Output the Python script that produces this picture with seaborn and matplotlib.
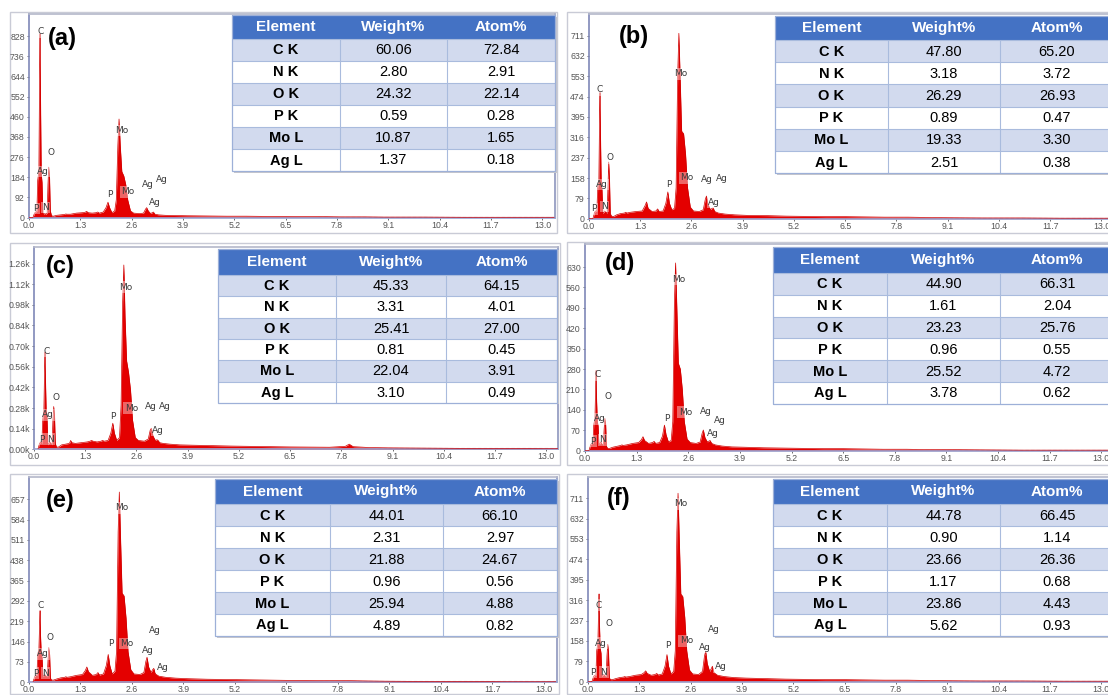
import numpy as np
import pandas as pd
import matplotlib
matplotlib.use("Agg")
import matplotlib.pyplot as plt
import seaborn as sns
from matplotlib.patches import Rectangle
from matplotlib.lines import Line2D

# ---------------- data ----------------
energy_keV = [0.00, 0.10, 0.14, 0.17, 0.20, 0.22, 0.25, 0.27, 0.28, 0.29, 0.31, 0.33, 0.35, 0.38, 0.40,
              0.43, 0.46, 0.48, 0.50, 0.52, 0.54, 0.57, 0.62, 0.70, 0.80, 0.90, 0.93, 0.96, 1.05, 1.20,
              1.35, 1.42, 1.46, 1.50, 1.60, 1.70, 1.74, 1.78, 1.88, 1.95, 2.00, 2.04, 2.10, 2.17, 2.21,
              2.25, 2.28, 2.31, 2.35, 2.40, 2.45, 2.50, 2.57, 2.65, 2.80, 2.90, 2.95, 2.98, 3.02, 3.08,
              3.12, 3.15, 3.19, 3.28, 3.45, 3.70, 4.00, 4.50, 5.00, 5.50, 6.00, 6.50, 7.00, 7.50, 7.90,
              8.00, 8.10, 8.50, 9.00, 10.0, 11.0, 12.0, 13.0, 13.3]

counts_a = [0, 0, 20, 25, 30, 170, 210, 700, 840, 560, 200, 160, 20, 15, 18,
            15, 20, 150, 230, 180, 30, 8, 6, 10, 12, 14, 16, 15, 15, 20,
            22, 24, 28, 22, 20, 22, 25, 20, 25, 45, 70, 45, 22, 30, 80,
            330, 450, 330, 210, 190, 150, 80, 30, 20, 18, 20, 38, 45, 30, 18,
            22, 25, 15, 12, 10, 9, 8, 7, 6, 6, 5, 5, 4, 4, 3,
            3, 3, 3, 2, 2, 1, 1, 1, 1]
counts_b = [0, 0, 25, 30, 30, 120, 150, 420, 490, 330, 140, 110, 20, 25, 30,
            25, 20, 120, 220, 150, 20, 10, 8, 15, 20, 22, 25, 22, 25, 28,
            30, 50, 65, 40, 28, 30, 38, 28, 30, 60, 104, 60, 35, 40, 120,
            560, 720, 560, 340, 330, 250, 120, 45, 30, 28, 35, 75, 88, 55, 35,
            40, 42, 28, 22, 18, 15, 13, 12, 10, 9, 8, 8, 7, 6, 6,
            6, 6, 5, 4, 3, 3, 2, 2, 2]
counts_c = [0, 0, 40, 50, 40, 200, 260, 560, 660, 480, 250, 220, 30, 40, 50,
            40, 30, 200, 290, 230, 40, 15, 15, 30, 35, 40, 60, 45, 40, 45,
            50, 55, 60, 55, 50, 55, 60, 55, 60, 110, 177, 110, 60, 80, 300,
            1000, 1250, 900, 600, 520, 400, 200, 80, 60, 55, 70, 130, 143, 90, 60,
            65, 60, 45, 40, 35, 30, 28, 25, 22, 20, 18, 16, 15, 14, 20,
            35, 18, 12, 10, 8, 6, 5, 4, 4]
counts_d = [0, 0, 20, 25, 25, 90, 110, 230, 275, 180, 100, 85, 20, 25, 30,
            22, 20, 70, 111, 90, 15, 8, 8, 12, 15, 18, 20, 18, 20, 25,
            28, 38, 48, 35, 25, 28, 32, 25, 28, 50, 88, 55, 30, 35, 100,
            500, 644, 500, 300, 280, 210, 100, 40, 28, 25, 30, 60, 71, 45, 30,
            33, 35, 25, 20, 16, 13, 12, 10, 9, 8, 7, 7, 6, 5, 5,
            5, 5, 4, 4, 3, 2, 2, 2, 2]
counts_e = [0, 0, 20, 25, 25, 100, 120, 220, 258, 170, 100, 90, 20, 25, 28,
            22, 20, 80, 124, 100, 15, 8, 8, 12, 16, 18, 20, 18, 20, 25,
            28, 42, 55, 38, 25, 28, 35, 26, 30, 60, 100, 60, 30, 40, 110,
            540, 683, 520, 320, 310, 230, 110, 45, 30, 28, 35, 75, 90, 55, 35,
            45, 50, 30, 22, 18, 15, 13, 11, 10, 9, 8, 7, 7, 6, 6,
            6, 6, 5, 4, 3, 3, 2, 2, 2]
counts_f = [0, 0, 20, 25, 25, 120, 150, 290, 340, 220, 130, 110, 20, 25, 28,
            22, 20, 100, 145, 110, 15, 8, 8, 12, 16, 18, 20, 18, 20, 25,
            28, 35, 42, 32, 25, 28, 32, 26, 30, 60, 105, 60, 30, 40, 120,
            580, 730, 560, 340, 330, 250, 120, 45, 30, 28, 40, 100, 118, 70, 40,
            50, 60, 35, 25, 20, 16, 14, 12, 10, 9, 8, 8, 7, 6, 6,
            6, 6, 5, 4, 3, 3, 2, 2, 2]

elements = ["C K", "N K", "O K", "P K", "Mo L", "Ag L"]
header = ["Element", "Weight%", "Atom%"]
weight_a = [60.06, 2.80, 24.32, 0.59, 10.87, 1.37]
atom_a = [72.84, 2.91, 22.14, 0.28, 1.65, 0.18]
weight_b = [47.80, 3.18, 26.29, 0.89, 19.33, 2.51]
atom_b = [65.20, 3.72, 26.93, 0.47, 3.30, 0.38]
weight_c = [45.33, 3.31, 25.41, 0.81, 22.04, 3.10]
atom_c = [64.15, 4.01, 27.00, 0.45, 3.91, 0.49]
weight_d = [44.90, 1.61, 23.23, 0.96, 25.52, 3.78]
atom_d = [66.31, 2.04, 25.76, 0.55, 4.72, 0.62]
weight_e = [44.01, 2.31, 21.88, 0.96, 25.94, 4.89]
atom_e = [66.10, 2.97, 24.67, 0.56, 4.88, 0.82]
weight_f = [44.78, 0.90, 23.66, 1.17, 23.86, 5.62]
atom_f = [66.45, 1.14, 26.36, 0.68, 4.43, 0.93]

peak_labels_a = [("C", 0.30, 849), ("O", 0.55, 299), ("Ag", 0.36, 210), ("P", 0.17, 41), ("N", 0.42, 46),
                 ("Mo", 2.35, 397), ("P", 2.05, 103), ("Mo", 2.50, 118), ("Ag", 3.00, 152),
                 ("Ag", 3.37, 175), ("Ag", 3.19, 67)]
peak_labels_b = [("C", 0.27, 500), ("O", 0.53, 236), ("Ag", 0.33, 133), ("P", 0.13, 38), ("N", 0.40, 47),
                 ("Mo", 2.34, 563), ("P", 2.02, 131), ("Mo", 2.49, 159), ("Ag", 3.00, 152),
                 ("Ag", 3.36, 156), ("Ag", 3.17, 63)]
peak_labels_c = [("C", 0.32, 664), ("O", 0.55, 351), ("Ag", 0.36, 233), ("P", 0.19, 68), ("N", 0.42, 68),
                 ("Mo", 2.32, 1099), ("P", 2.01, 222), ("Mo", 2.47, 279), ("Ag", 2.96, 290),
                 ("Ag", 3.32, 290), ("Ag", 3.15, 127)]
peak_labels_d = [("C", 0.33, 260), ("O", 0.57, 186), ("Ag", 0.38, 109), ("P", 0.19, 33), ("N", 0.44, 37),
                 ("Mo", 2.37, 587), ("P", 2.07, 109), ("Mo", 2.53, 132), ("Ag", 3.04, 136),
                 ("Ag", 3.40, 102), ("Ag", 3.23, 60)]
peak_labels_e = [("C", 0.29, 276), ("O", 0.54, 160), ("Ag", 0.34, 102), ("P", 0.16, 33), ("N", 0.41, 33),
                 ("Mo", 2.33, 626), ("P", 2.06, 139), ("Mo", 2.48, 139), ("Ag", 3.00, 114),
                 ("Ag", 3.19, 185), ("Ag", 3.37, 53)]
peak_labels_f = [("C", 0.28, 296), ("O", 0.52, 224), ("Ag", 0.32, 149), ("P", 0.13, 37), ("N", 0.40, 37),
                 ("Mo", 2.34, 689), ("P", 2.03, 142), ("Mo", 2.49, 158), ("Ag", 2.95, 134),
                 ("Ag", 3.19, 202), ("Ag", 3.36, 57)]

# ---------------- styling / layout ----------------
W, H = 1108, 695
sns.set_theme(style="white")
plt.rcParams['font.family'] = ['Liberation Sans', 'DejaVu Sans']

fig = plt.figure(figsize=(W / 100, H / 100), dpi=100)
fig.patch.set_facecolor("white")


def fx(x):
    return x / W


def fy(y):
    return 1 - y / H


def fig_rect(x0, y0, x1, y1, **kw):
    r = Rectangle((fx(x0), fy(y1)), (x1 - x0) / W, (y1 - y0) / H,
                  transform=fig.transFigure, **kw)
    fig.add_artist(r)
    return r


def fig_line(x0, y0, x1, y1, **kw):
    ln = Line2D([fx(x0), fx(x1)], [fy(y0), fy(y1)], transform=fig.transFigure, **kw)
    fig.add_artist(ln)


panels = [
    dict(tag="(a)", counts=counts_a, w=weight_a, at=atom_a, labels=peak_labels_a,
         box=(29, 14, 555, 217.5), xmax=13.32, ytop=930, ystep=92, kfmt=False,
         frame=(10, 12, 557, 233), cols=[232, 340, 447, 555], ttop=15, hh=24, rh=22.0,
         tagpos=(62, 38)),
    dict(tag="(b)", counts=counts_b, w=weight_b, at=atom_b, labels=peak_labels_b,
         box=(589, 14, 1112, 218.7), xmax=13.27, ytop=795, ystep=79, kfmt=False,
         frame=(567, 12, 1112, 233), cols=[775, 888, 1000, 1114], ttop=16, hh=24, rh=22.2,
         tagpos=(634, 37)),
    dict(tag="(c)", counts=counts_c, w=weight_c, at=atom_c, labels=peak_labels_c,
         box=(34, 247, 558, 449.3), xmax=13.3, ytop=1372, ystep=140, kfmt=True,
         frame=(10, 243, 560, 465), cols=[218, 336, 446, 557], ttop=249, hh=26, rh=21.3,
         tagpos=(60, 266)),
    dict(tag="(d)", counts=counts_d, w=weight_d, at=atom_d, labels=peak_labels_d,
         box=(585, 244, 1112, 450.7), xmax=13.27, ytop=709, ystep=70, kfmt=False,
         frame=(567, 242, 1112, 465), cols=[773, 887, 1000, 1114], ttop=247, hh=26, rh=21.8,
         tagpos=(620, 264)),
    dict(tag="(e)", counts=counts_e, w=weight_e, at=atom_e, labels=peak_labels_e,
         box=(29, 477, 557, 682.3), xmax=13.33, ytop=737, ystep=73, kfmt=False,
         frame=(10, 474, 559, 694), cols=[215, 330, 443, 557], ttop=479, hh=25, rh=22.0,
         tagpos=(60, 500)),
    dict(tag="(f)", counts=counts_f, w=weight_f, at=atom_f, labels=peak_labels_f,
         box=(588, 477, 1112, 681.7), xmax=13.27, ytop=793, ystep=79, kfmt=False,
         frame=(567, 474, 1112, 694), cols=[773, 887, 1000, 1114], ttop=479, hh=25, rh=22.0,
         tagpos=(619, 499)),
]

HEADER_BLUE = "#4472C4"
ROW_LIGHT = "#D2DAEE"
GRID = "#A9BBDD"
RED = "#E40000"

for p in panels:
    # outer panel frame
    x0, y0, x1, y1 = p["frame"]
    fig_rect(x0, y0, x1, y1, fill=False, edgecolor="#C9CBD6", lw=1.0, zorder=0)

    l, t, r, b = p["box"]
    ax = fig.add_axes([fx(l), fy(b), (r - l) / W, (b - t) / H])
    ax.set_facecolor("white")
    df = pd.DataFrame({"energy": energy_keV, "counts": p["counts"]})
    ax.fill_between(df["energy"], df["counts"], 0, color=RED, lw=0, zorder=2)
    sns.lineplot(data=df, x="energy", y="counts", ax=ax, color="#D00000", lw=0.5, zorder=3)
    # faint tail trace
    ax.axhline(0.004 * p["ytop"], xmin=0.55, xmax=1.0, color="#9EC3E6", lw=0.8, ls=(0, (3, 2)), zorder=1)

    ax.set_xlim(0, p["xmax"])
    ax.set_ylim(0, p["ytop"])
    ax.set_xlabel("")
    ax.set_ylabel("")
    xt = [round(1.3 * i, 1) for i in range(11)]
    ax.set_xticks(xt)
    ax.set_xticklabels([f"{v:.1f}" for v in xt])
    yt = [p["ystep"] * i for i in range(10)]
    ax.set_yticks(yt)
    if p["kfmt"]:
        ax.set_yticklabels([f"{v / 1000:.2f}k" for v in yt])
    else:
        ax.set_yticklabels([f"{v}" for v in yt])
    ax.tick_params(axis="both", which="both", bottom=True, left=True, length=1.5, width=0.6,
                   labelsize=6.3, colors="#555555", pad=1.5)
    ax.tick_params(axis="x", pad=0.8)
    for s, c in [("left", "#7F88B8"), ("bottom", "#9AA6D4"), ("top", "#B4B8CA"), ("right", "#8E96BE")]:
        ax.spines[s].set_color(c)
        ax.spines[s].set_linewidth(1.2)
        ax.spines[s].set_visible(True)

    for txt, e, c in p["labels"]:
        ax.text(e, c, txt, fontsize=6.5, color="#3A3A3A", ha="center", va="center", zorder=4,
                family=["DejaVu Sans"],
                bbox=dict(boxstyle="square,pad=0.15", facecolor="white", alpha=0.4, edgecolor="none"))

    # panel tag
    tx, ty = p["tagpos"]
    fig.text(fx(tx), fy(ty), p["tag"], fontsize=17, fontweight="bold", ha="center", va="center",
             color="black", zorder=6)

    # table
    cols = p["cols"]
    ttop, hh, rh = p["ttop"], p["hh"], p["rh"]
    tbottom = ttop + hh + rh * len(elements)
    fig_rect(cols[0] + 1.5, ttop + 1.5, cols[-1] + 1.5, tbottom + 1.5, facecolor="#C8C8CC",
             edgecolor="none", zorder=4)
    fig_rect(cols[0], ttop, cols[-1], ttop + hh, facecolor=HEADER_BLUE, edgecolor="none", zorder=5)
    for j, hd in enumerate(header):
        fig.text(fx((cols[j] + cols[j + 1]) / 2), fy(ttop + hh / 2), hd, color="white",
                 fontsize=11, fontweight="bold", ha="center", va="center", zorder=7)
    for i, el in enumerate(elements):
        ry0 = ttop + hh + i * rh
        fig_rect(cols[0], ry0, cols[-1], ry0 + rh,
                 facecolor=ROW_LIGHT if i % 2 == 0 else "white", edgecolor="none", zorder=5)
        fig_line(cols[0], ry0, cols[-1], ry0, color=GRID, lw=0.8, zorder=6)
        vals = [el, f"{p['w'][i]:.2f}", f"{p['at'][i]:.2f}"]
        for j, v in enumerate(vals):
            fig.text(fx((cols[j] + cols[j + 1]) / 2), fy(ry0 + rh / 2 + 0.5), v, color="black",
                     fontsize=10.5, fontweight="bold" if j == 0 else "normal",
                     ha="center", va="center", zorder=7)
    for xc in cols[1:-1]:
        fig_line(xc, ttop + hh, xc, tbottom, color=GRID, lw=0.8, zorder=6)
    fig_rect(cols[0], ttop, cols[-1], tbottom, fill=False, edgecolor="#9DB0D8", lw=0.9, zorder=6)

fig.savefig("out.png", dpi=100, facecolor="white")
